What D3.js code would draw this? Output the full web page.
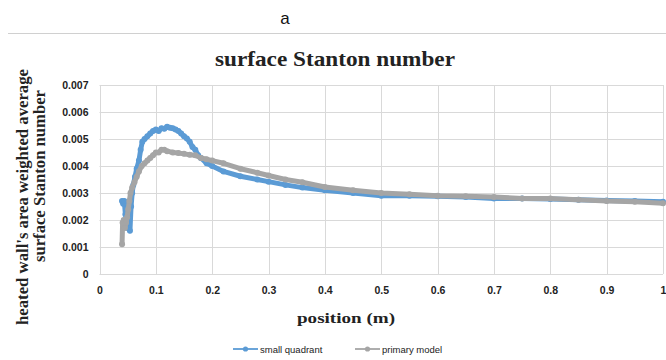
<!DOCTYPE html>
<html><head><meta charset="utf-8">
<script src="https://cdn.jsdelivr.net/npm/d3@7"></script>
<style>html,body{margin:0;padding:0;background:#fff;}</style>
</head><body>
<svg id="c" width="666" height="360"></svg>
<script>
const xTicks = [0,0.1,0.2,0.3,0.4,0.5,0.6,0.7,0.8,0.9,1];
const xTickLabels = ["0","0.1","0.2","0.3","0.4","0.5","0.6","0.7","0.8","0.9","1"];
const yTicks = [0,0.001,0.002,0.003,0.004,0.005,0.006,0.007];
const yTickLabels = ["0","0.001","0.002","0.003","0.004","0.005","0.006","0.007"];
const seriesNames = ["small quadrant","primary model"];

const sqX = [0.040,0.042,0.044,0.046,0.048,0.050,0.052,0.054,0.056,0.058,0.060,0.063,0.066,0.070,0.073,0.076,0.080,0.085,0.090,0.095,0.100,0.105,0.110,0.115,0.120,0.125,0.130,0.135,0.140,0.145,0.150,0.155,0.160,0.165,0.170,0.175,0.180,0.190,0.200,0.22,0.25,0.28,0.30,0.33,0.36,0.40,0.45,0.50,0.55,0.60,0.65,0.70,0.75,0.80,0.85,0.90,0.95,1.00];
const sqY = [0.0027,0.0026,0.0027,0.0022,0.0024,0.0017,0.0020,0.0016,0.0025,0.0030,0.0033,0.0036,0.0039,0.0042,0.0046,0.0049,0.0050,0.0051,0.0052,0.0053,0.00535,0.0053,0.0054,0.00538,0.00545,0.00542,0.0054,0.00535,0.0053,0.0052,0.0051,0.00502,0.0049,0.0047,0.0046,0.0044,0.0043,0.0041,0.0040,0.0038,0.00362,0.0035,0.00342,0.0033,0.0032,0.0031,0.0030,0.0029,0.0029,0.00288,0.00285,0.0028,0.0028,0.00278,0.00275,0.00272,0.0027,0.00268];

const pmX = [0.040,0.041,0.043,0.045,0.047,0.049,0.051,0.053,0.055,0.058,0.062,0.066,0.070,0.075,0.080,0.085,0.090,0.095,0.100,0.105,0.110,0.115,0.120,0.130,0.140,0.150,0.160,0.170,0.180,0.190,0.200,0.22,0.25,0.28,0.30,0.33,0.36,0.40,0.45,0.50,0.55,0.60,0.65,0.70,0.75,0.80,0.85,0.90,0.95,1.00];
const pmY = [0.0011,0.0019,0.0020,0.0017,0.0019,0.0021,0.0024,0.0027,0.0030,0.0032,0.0034,0.0036,0.0038,0.0040,0.0041,0.0042,0.0043,0.0044,0.0045,0.0045,0.0046,0.0046,0.00455,0.0045,0.00448,0.00445,0.00442,0.0044,0.0043,0.00425,0.0042,0.0041,0.0039,0.00375,0.00365,0.0035,0.0034,0.00322,0.0031,0.0030,0.00295,0.0029,0.00288,0.00285,0.0028,0.0028,0.00275,0.0027,0.00268,0.00262];

const colors = ["#5b9bd5","#a5a5a5"];
const svg = d3.select("#c");

// top decoration
svg.append("text").attr("x",285).attr("y",24).attr("text-anchor","middle")
  .attr("font-family","Liberation Sans, Arial, sans-serif").attr("font-size",17).attr("fill","#111").text("a");
svg.append("line").attr("x1",8).attr("x2",666).attr("y1",33.5).attr("y2",33.5).attr("stroke","#d0d0d0").attr("stroke-width",1);

const serif = "Liberation Serif, Times New Roman, serif";
svg.append("text").attr("x",335).attr("y",66).attr("text-anchor","middle")
  .attr("font-family",serif).attr("font-weight","bold")
  .attr("font-size",21).attr("textLength",240).attr("lengthAdjust","spacingAndGlyphs")
  .attr("fill","#222").text("surface Stanton number");

const x = d3.scaleLinear().domain([0,1]).range([99.5,663]);
const y = d3.scaleLinear().domain([0,0.007]).range([274,85]);

const g = svg.append("g");
// gridlines
g.selectAll(".gy").data(yTicks).join("line").attr("x1",x(0)).attr("x2",x(1))
  .attr("y1",d=>Math.round(y(d))+0.5).attr("y2",d=>Math.round(y(d))+0.5).attr("stroke","#d9d9d9");
g.selectAll(".gx").data(xTicks).join("line").attr("y1",y(0)).attr("y2",y(0.007))
  .attr("x1",d=>Math.round(x(d))+0.5).attr("x2",d=>Math.round(x(d))+0.5).attr("stroke","#d9d9d9");

const tickFont = "Liberation Sans, Arial, sans-serif";
const xAxis = d3.axisBottom(x).tickValues(xTicks).tickFormat((d,i)=>xTickLabels[i]).tickSize(0).tickPadding(13);
const xa = svg.append("g").attr("transform",`translate(0,${y(0)})`).call(xAxis);
xa.select(".domain").remove();
xa.selectAll("text").attr("font-family",tickFont).attr("font-weight","bold").attr("font-size",10.5).attr("fill","#222");

const yAxis = d3.axisLeft(y).tickValues(yTicks).tickFormat((d,i)=>yTickLabels[i]).tickSize(0).tickPadding(11);
const ya = svg.append("g").attr("transform",`translate(${x(0)},0)`).call(yAxis);
ya.select(".domain").remove();
ya.selectAll("text").attr("font-family",tickFont).attr("font-weight","bold").attr("font-size",10.5).attr("fill","#222");

// series
const seriesData = [sqX.map((v,i)=>[v,sqY[i]]), pmX.map((v,i)=>[v,pmY[i]])];
const line = d3.line().x(d=>x(d[0])).y(d=>y(d[1]));
seriesData.forEach((s,k)=>{
  const sg = svg.append("g");
  sg.append("path").datum(s).attr("d",line).attr("fill","none").attr("stroke",colors[k]).attr("stroke-width",5).attr("stroke-linejoin","round").attr("stroke-linecap","round");
  sg.selectAll("circle").data(s).join("circle").attr("cx",d=>x(d[0])).attr("cy",d=>y(d[1])).attr("r",3).attr("fill",colors[k]);
});

// axis titles
svg.append("text").attr("x",346).attr("y",323).attr("text-anchor","middle")
  .attr("font-family",serif).attr("font-weight","bold").attr("font-size",15)
  .attr("textLength",98).attr("lengthAdjust","spacingAndGlyphs").attr("fill","#222").text("position (m)");
svg.append("text").attr("transform","translate(28,197) rotate(-90)").attr("text-anchor","middle")
  .attr("font-family",serif).attr("font-weight","bold").attr("font-size",16)
  .attr("textLength",256).attr("lengthAdjust","spacingAndGlyphs").attr("fill","#222")
  .text("heated wall's area weighted average");
svg.append("text").attr("transform","translate(45,176) rotate(-90)").attr("text-anchor","middle")
  .attr("font-family",serif).attr("font-weight","bold").attr("font-size",16)
  .attr("textLength",172).attr("lengthAdjust","spacingAndGlyphs").attr("fill","#222")
  .text("surface Stanton number");

// legend
const legX = [233,355];
seriesNames.forEach((n,k)=>{
  const lg = svg.append("g").attr("transform",`translate(${legX[k]},349)`);
  lg.append("line").attr("x1",0).attr("x2",25).attr("y1",0).attr("y2",0).attr("stroke",colors[k]).attr("stroke-width",1.8);
  lg.append("circle").attr("cx",12.5).attr("cy",0).attr("r",2.6).attr("fill",colors[k]);
  lg.append("text").attr("x",27).attr("y",3.5).attr("font-family",tickFont).attr("font-size",9.5).attr("fill","#222").text(n);
});
</script>
</body></html>
